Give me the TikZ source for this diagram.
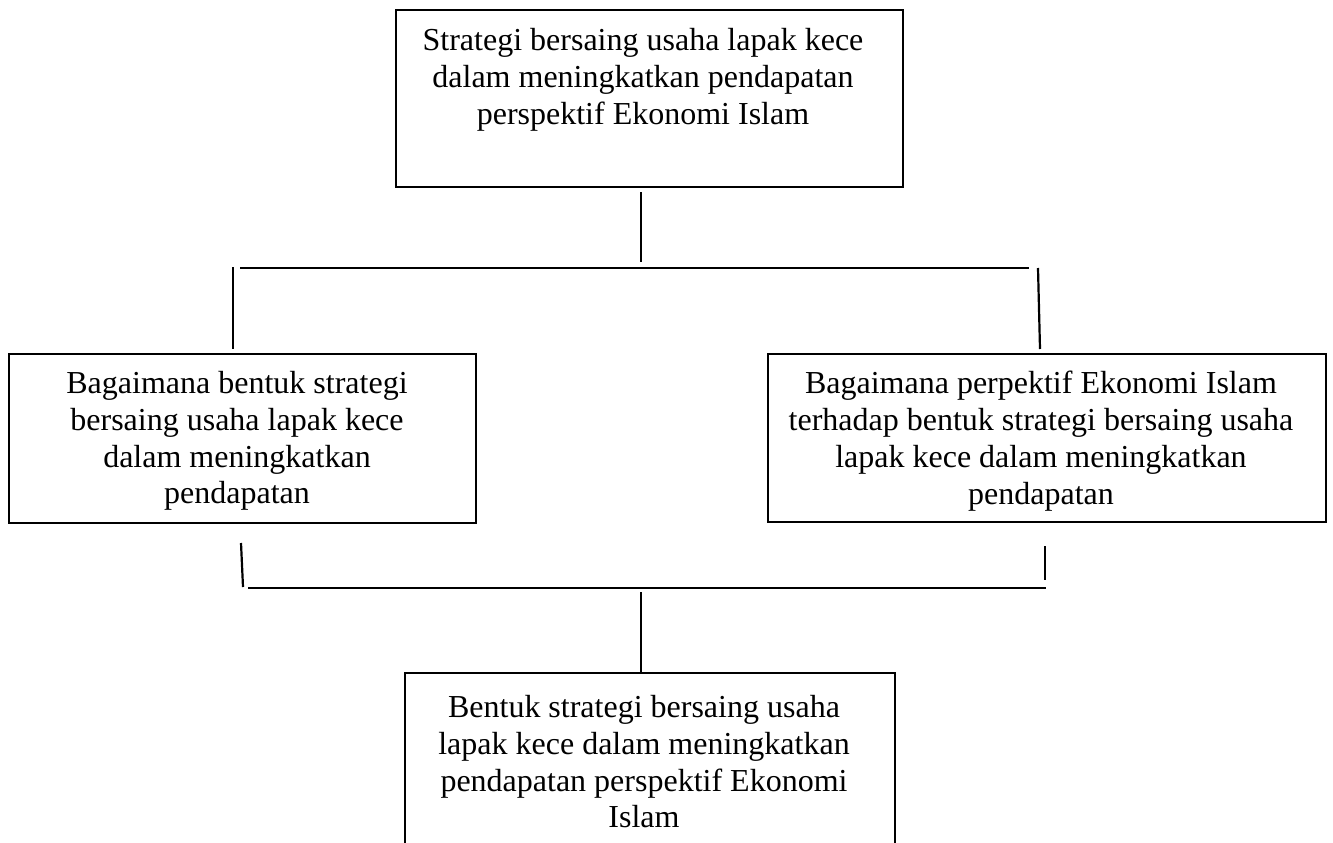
\documentclass[tikz,border=0pt]{standalone}
\usepackage{fontspec}
\setmainfont{Liberation Serif}
\begin{document}
\begin{tikzpicture}[x=1pt,y=-1pt,
  boxline/.style={draw=black,line width=2pt},
  box/.style={boxline,rectangle,inner sep=0pt},
  txt/.style={align=center,inner sep=0pt,anchor=north,font=\fontsize{32}{36.8}\selectfont},
  conn/.style={draw=black,line width=2.2pt},
  hconn/.style={draw=black,line width=2.6pt}]
\useasboundingbox (0,0) rectangle (1333,843);
% boxes
\node[box,minimum width=507pt,minimum height=177pt] (top) at (649.5,98.5) {};
\node[box,minimum width=467pt,minimum height=169pt] (left) at (242.5,438.5) {};
\node[box,minimum width=558pt,minimum height=168pt] (right) at (1047,438) {};
\coordinate (bbl) at (405,843);
\coordinate (btl) at (405,673);
\coordinate (btr) at (895,673);
\coordinate (bbr) at (895,843);
\draw[boxline] (bbl) -- (btl) -- (btr) -- (bbr);
% texts
\node[txt] (toptext) at (643,28) {Strategi bersaing usaha lapak kece\\dalam meningkatkan pendapatan\\perspektif Ekonomi Islam};
\node[txt] (lefttext) at (237,371) {Bagaimana bentuk strategi\\bersaing usaha lapak kece\\dalam meningkatkan\\pendapatan};
\node[txt] (righttext) at (1041,371) {Bagaimana perpektif Ekonomi Islam\\terhadap bentuk strategi bersaing usaha\\lapak kece dalam meningkatkan\\pendapatan};
\node[txt] (bottext) at (644,695) {Bentuk strategi bersaing usaha\\lapak kece dalam meningkatkan\\pendapatan perspektif Ekonomi\\Islam};
% connector coordinates
\coordinate (a1) at (641,192);
\coordinate (a2) at (641,262);
\coordinate (h1l) at (240,268);
\coordinate (h1r) at (1029,268);
\coordinate (l1t) at (233,267);
\coordinate (l1b) at (233,349);
\coordinate (r1t) at (1038,268);
\coordinate (r1b) at (1040,349);
\coordinate (l2t) at (241,543);
\coordinate (l2b) at (243,587);
\coordinate (r2t) at (1045,546);
\coordinate (r2b) at (1045,580);
\coordinate (h2l) at (248,588);
\coordinate (h2r) at (1046,588);
\coordinate (b1) at (641,592);
\coordinate (b2) at (641,672);
% connectors
\draw[conn] (a1) -- (a2);
\draw[hconn] (h1l) -- (h1r);
\draw[conn] (l1t) -- (l1b);
\draw[conn] (r1t) -- (r1b);
\draw[conn] (l2t) -- (l2b);
\draw[conn] (r2t) -- (r2b);
\draw[hconn] (h2l) -- (h2r);
\draw[conn] (b1) -- (b2);
\end{tikzpicture}
\end{document}
